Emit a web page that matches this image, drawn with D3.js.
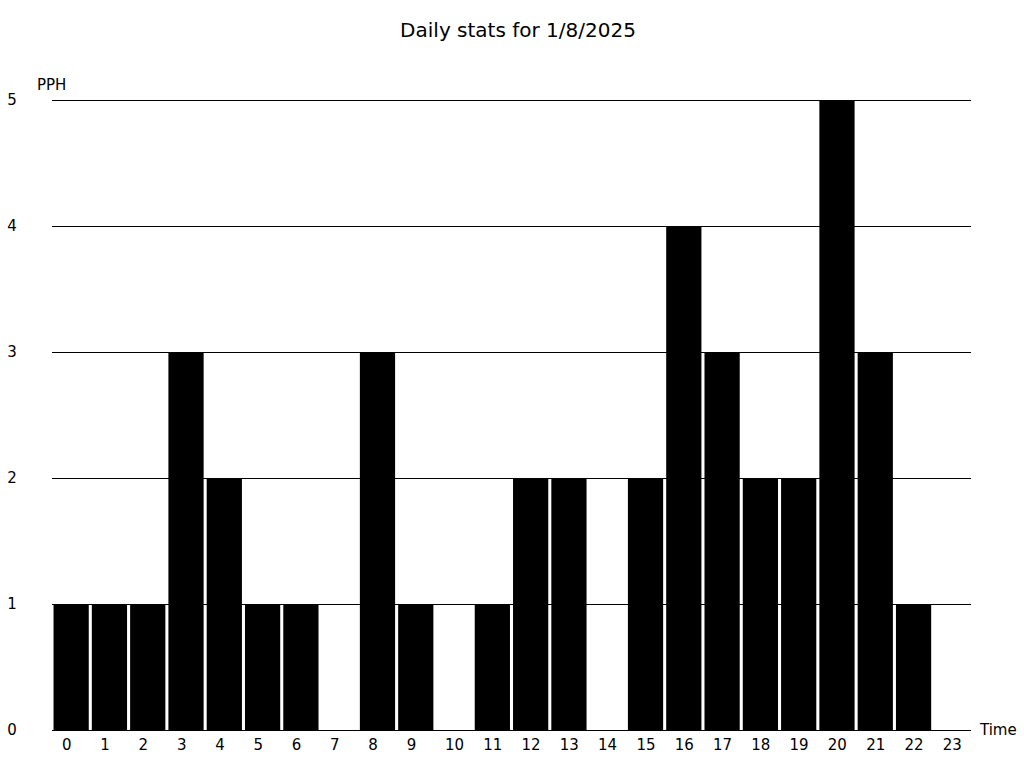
<!DOCTYPE html>
<html><head><meta charset="utf-8">
<script src="https://cdn.jsdelivr.net/npm/d3@7"></script>
<style>body{margin:0;background:#fff}svg{display:block}text{font-family:"DejaVu Sans",sans-serif;fill:#000}</style>
</head><body>
<svg id="c" width="1024" height="768"></svg>
<script>
const title = "Daily stats for 1/8/2025";
const hours = ["0","1","2","3","4","5","6","7","8","9","10","11","12","13","14","15","16","17","18","19","20","21","22","23"];
const pph = [1,1,1,3,2,1,1,0,3,1,0,1,2,2,0,2,4,3,2,2,5,3,1,0];
const yTicks = [0,1,2,3,4,5];

const svg = d3.select("#c");
const x = d3.scaleBand().domain(hours).range([52, 971]).paddingInner(0.08).paddingOuter(0.04);
const xb = d3.scaleBand().domain(hours).range([52, 971]);
const y = d3.scaleLinear().domain([0,5]).range([730,100]);

svg.append("text").attr("x",518).attr("y",37).attr("text-anchor","middle").style("font-size","20px").text(title);

svg.append("g").selectAll("line").data(yTicks).join("line")
  .attr("x1",52).attr("x2",971).attr("y1",d=>y(d)+0.5).attr("y2",d=>y(d)+0.5)
  .attr("stroke","#000").attr("stroke-width",1);

svg.append("g").selectAll("text").data(yTicks).join("text")
  .attr("x",12).attr("y",d=>y(d)).attr("dy","0.35em").attr("text-anchor","middle")
  .style("font-size","15px").text(d=>d);

svg.append("g").selectAll("rect").data(pph).join("rect")
  .attr("x",(d,i)=>x(hours[i])).attr("width",x.bandwidth())
  .attr("y",d=>y(d)).attr("height",d=>y(0)-y(d)).attr("fill","#000");

svg.append("g").selectAll("text").data(hours).join("text")
  .attr("x",d=>xb(d)+10).attr("y",745).attr("dy","0.35em")
  .style("font-size","15px").text(d=>d);

svg.append("text").attr("x",37).attr("y",85).attr("dy","0.35em").style("font-size","15px").text("PPH");
svg.append("text").attr("x",980).attr("y",730).attr("dy","0.35em").style("font-size","15px").text("Time");
</script>
</body></html>
